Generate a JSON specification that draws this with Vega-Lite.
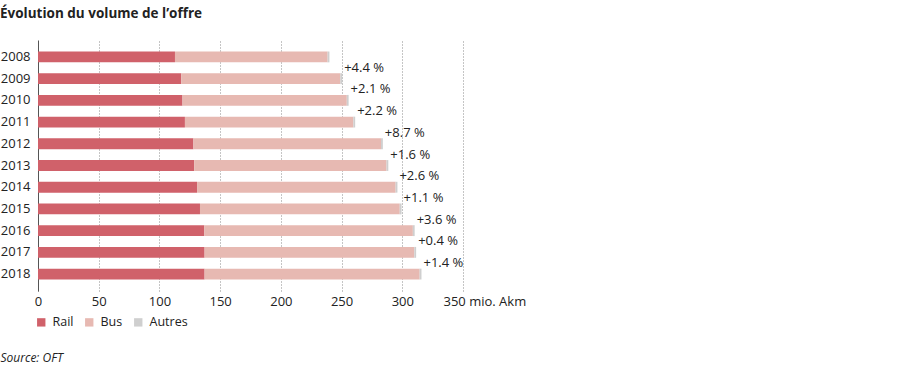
{
  "$schema": "https://vega.github.io/schema/vega-lite/v6.json",
  "autosize": {"type": "none"},
  "width": 425,
  "height": 251,
  "padding": {"left": 38, "top": 40, "right": 437, "bottom": 74},
  "background": "white",
  "config": {
    "font": "Open Sans",
    "view": {"stroke": null},
    "text": {"font": "Open Sans"}
  },
  "title": {
    "text": "Évolution du volume de l’offre",
    "anchor": "start",
    "frame": "bounds",
    "fontSize": 13.5,
    "fontWeight": "bold",
    "color": "#222222",
    "offset": 20,
    "font": "Open Sans"
  },
  "datasets": {
    "parts": [
      {"year": "2008", "type": "Rail", "value": 112.8},
      {"year": "2008", "type": "Bus", "value": 125.7},
      {"year": "2008", "type": "Autres", "value": 1.5},
      {"year": "2009", "type": "Rail", "value": 118},
      {"year": "2009", "type": "Bus", "value": 131},
      {"year": "2009", "type": "Autres", "value": 1.5},
      {"year": "2010", "type": "Rail", "value": 119},
      {"year": "2010", "type": "Bus", "value": 135.3},
      {"year": "2010", "type": "Autres", "value": 1.5},
      {"year": "2011", "type": "Rail", "value": 121},
      {"year": "2011", "type": "Bus", "value": 138.7},
      {"year": "2011", "type": "Autres", "value": 1.5},
      {"year": "2012", "type": "Rail", "value": 128},
      {"year": "2012", "type": "Bus", "value": 154.5},
      {"year": "2012", "type": "Autres", "value": 1.5},
      {"year": "2013", "type": "Rail", "value": 128.7},
      {"year": "2013", "type": "Bus", "value": 158.3},
      {"year": "2013", "type": "Autres", "value": 1.5},
      {"year": "2014", "type": "Rail", "value": 131},
      {"year": "2014", "type": "Bus", "value": 163.5},
      {"year": "2014", "type": "Autres", "value": 1.5},
      {"year": "2015", "type": "Rail", "value": 133.4},
      {"year": "2015", "type": "Bus", "value": 164.5},
      {"year": "2015", "type": "Autres", "value": 1.5},
      {"year": "2016", "type": "Rail", "value": 137},
      {"year": "2016", "type": "Bus", "value": 171.7},
      {"year": "2016", "type": "Autres", "value": 1.5},
      {"year": "2017", "type": "Rail", "value": 137.2},
      {"year": "2017", "type": "Bus", "value": 172.7},
      {"year": "2017", "type": "Autres", "value": 1.5},
      {"year": "2018", "type": "Rail", "value": 137.2},
      {"year": "2018", "type": "Bus", "value": 177.1},
      {"year": "2018", "type": "Autres", "value": 1.5}
    ],
    "growth": [
      {"year": "2009", "total": 250.5, "label": "+4.4 %"},
      {"year": "2010", "total": 255.8, "label": "+2.1 %"},
      {"year": "2011", "total": 261.2, "label": "+2.2 %"},
      {"year": "2012", "total": 284, "label": "+8.7 %"},
      {"year": "2013", "total": 288.5, "label": "+1.6 %"},
      {"year": "2014", "total": 296, "label": "+2.6 %"},
      {"year": "2015", "total": 299.4, "label": "+1.1 %"},
      {"year": "2016", "total": 310.2, "label": "+3.6 %"},
      {"year": "2017", "total": 311.4, "label": "+0.4 %"},
      {"year": "2018", "total": 315.8, "label": "+1.4 %"}
    ]
  },
  "encoding": {
    "y": {
      "field": "year",
      "type": "nominal",
      "sort": ["2008", "2009", "2010", "2011", "2012", "2013", "2014", "2015", "2016", "2017", "2018"],
      "scale": {"paddingInner": 0.5, "paddingOuter": 0.53},
      "axis": {
        "title": null,
        "ticks": false,
        "domain": true,
        "domainColor": "#555555",
        "domainWidth": 1,
        "labelFontSize": 13,
        "labelColor": "#222222",
        "labelPadding": 8,
        "grid": false
      }
    }
  },
  "layer": [
    {
      "data": {"name": "parts"},
      "mark": {"type": "bar"},
      "encoding": {
        "x": {
          "field": "value",
          "type": "quantitative",
          "stack": "zero",
          "scale": {"domain": [0, 350], "nice": false},
          "axis": {
            "values": [0, 50, 100, 150, 200, 250, 300, 350],
            "labelExpr": "datum.value == 350 ? '350 mio. Akm' : datum.label",
            "labelAlign": {"condition": {"test": "datum.value == 350", "value": "left"}, "value": "center"},
            "labelOffset": {"condition": {"test": "datum.value == 350", "value": -20}, "value": 0},
            "labelFontSize": 13,
            "labelColor": "#222222",
            "labelPadding": 4,
            "domain": false,
            "ticks": false,
            "grid": true,
            "gridDash": [1, 2],
            "gridColor": "#8a8a8a",
            "gridWidth": 1,
            "title": "Source: OFT",
            "titleFontStyle": "italic",
            "titleFontWeight": "normal",
            "titleFontSize": 12,
            "titleColor": "#222222",
            "titleAnchor": "start",
            "titleAlign": "left",
            "titleBaseline": "middle",
            "titleX": -38,
            "titleY": 66
          }
        },
        "color": {
          "field": "type",
          "type": "nominal",
          "scale": {"domain": ["Rail", "Bus", "Autres"], "range": ["#d0616a", "#e7b9b2", "#cfcfcf"]},
          "legend": {
            "title": null,
            "orient": "none",
            "legendX": -3,
            "legendY": 276,
            "direction": "horizontal",
            "symbolType": "square",
            "symbolSize": 70,
            "symbolStrokeWidth": 0,
            "labelFontSize": 12.5,
            "labelColor": "#222222",
            "labelOffset": 5,
            "columnPadding": 9
          }
        },
        "order": {"field": "type", "sort": "descending"}
      }
    },
    {
      "data": {"name": "growth"},
      "mark": {"type": "text", "align": "left", "baseline": "middle", "dx": 2, "yOffset": -11, "fontSize": 13, "color": "#222222"},
      "encoding": {
        "x": {"field": "total", "type": "quantitative"},
        "text": {"field": "label"}
      }
    }
  ]
}
